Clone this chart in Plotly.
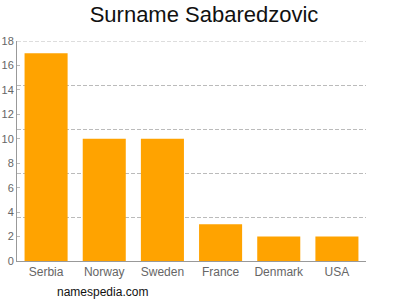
import plotly.graph_objects as go

countries = ["Serbia", "Norway", "Sweden", "France", "Denmark", "USA"]
counts = [17, 10, 10, 3, 2, 2]
y_max = 18
grid_levels = [3.6, 7.2, 10.8, 14.4]
title_text = "Surname Sabaredzovic"
source_text = "namespedia.com"

fig = go.Figure()
fig.add_trace(go.Bar(x=countries, y=counts, marker=dict(color="#ffa300", line=dict(width=0)), hoverinfo="x+y"))
# invisible trace on secondary axis to carry the dashed grid
fig.add_trace(go.Scatter(x=countries, y=[None]*len(countries), yaxis="y2", showlegend=False, hoverinfo="skip"))

dash_style = "4px,2px"

fig.update_layout(
    width=400, height=300,
    margin=dict(l=17, r=34, t=41, b=39),
    paper_bgcolor="white", plot_bgcolor="white",
    showlegend=False,
    bargap=0.26,
    title=dict(text=title_text, x=0.51, xanchor="center", y=0.953, yanchor="middle",
               font=dict(family="Liberation Sans, Arial, sans-serif", size=22, color="#111")),
    font=dict(family="Liberation Sans, Arial, sans-serif", size=11, color="#666"),
    xaxis=dict(showline=True, linecolor="#999", linewidth=1, ticks="", showgrid=False,
               automargin=False, tickfont=dict(size=12, color="#666")),
    yaxis=dict(range=[0, y_max], dtick=2, showline=True, linecolor="#999", linewidth=1,
               ticks="inside", ticklen=3, tickcolor="#bbb", showgrid=False, zeroline=False,
               automargin=False, tickfont=dict(size=11, color="#666")),
    yaxis2=dict(range=[0, y_max], tickmode="array", tickvals=grid_levels, overlaying="y", side="right",
                showticklabels=False, automargin=False,
                showgrid=True, gridcolor="#bbb", griddash=dash_style, gridwidth=1, zeroline=False,
                showline=False, ticks=""),
    shapes=[dict(type="line", xref="paper", x0=0, x1=1, yref="y", y0=y_max, y1=y_max,
                 line=dict(color="#bbb", width=1, dash=dash_style), layer="below")],
    annotations=[dict(text=source_text, xref="paper", yref="paper", x=0.11, y=-0.10,
                      xanchor="left", yanchor="top", showarrow=False,
                      font=dict(family="Liberation Sans, Arial, sans-serif", size=12, color="#111"))],
)
fig.write_html("out.html")
